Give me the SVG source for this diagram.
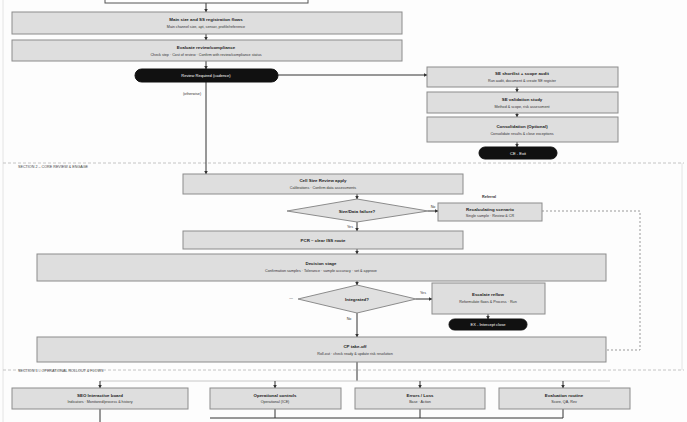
<svg xmlns="http://www.w3.org/2000/svg" width="687" height="422" viewBox="0 0 687 422">
<style>
.bg{fill:#fdfdfd}
.box{fill:#dedede;stroke:#8c8c8c;stroke-width:1}
.boxw{fill:#ffffff;stroke:#555;stroke-width:1}
.pill{fill:#111111;stroke:#111;stroke-width:1}
.dia{fill:#e0e0e0;stroke:#8c8c8c;stroke-width:1}
.t{font-family:"Liberation Sans",Arial,sans-serif;font-size:4.4px;font-weight:bold;fill:#222;text-anchor:middle}
.s{font-family:"Liberation Sans",Arial,sans-serif;font-size:3.7px;fill:#333;text-anchor:middle}
.w{font-family:"Liberation Sans",Arial,sans-serif;font-size:4px;fill:#fff;text-anchor:middle}
.l{font-family:"Liberation Sans",Arial,sans-serif;font-size:3.7px;fill:#333;text-anchor:middle}
.sec{font-family:"Liberation Sans",Arial,sans-serif;font-size:3.7px;fill:#444;text-anchor:start}
.c{fill:none;stroke:#333;stroke-width:1}
.cd{fill:none;stroke:#999;stroke-width:1;stroke-dasharray:2 2}
.div{fill:none;stroke:#c4c4c4;stroke-width:1;stroke-dasharray:3 2}
.frame{fill:none;stroke:#e4e4e4;stroke-width:1}
</style>
<defs>
<marker id="a" markerWidth="4" markerHeight="4" refX="3.5" refY="2" orient="auto" markerUnits="userSpaceOnUse">
<path d="M0,0 L4,2 L0,4 Z" fill="#333"/>
</marker>
</defs>
<rect class="bg" x="0" y="0" width="687" height="422"/>
<g id="frames">
<line class="frame" x1="3" y1="0" x2="3" y2="422"/>
<line class="frame" x1="682" y1="163" x2="682" y2="370"/>
<line class="div" x1="3" y1="163" x2="684" y2="163"/>
<line class="div" x1="3" y1="370" x2="684" y2="370"/>
<text class="sec" x="18" y="168">SECTION 2 – CORE REVIEW &amp; ENGAGE</text>
<text class="sec" x="18" y="372">SECTION 3 – OPERATIONAL ROLLOUT &amp; FLOWS</text>
</g>
<g id="connectors">
<line class="c" x1="206" y1="3" x2="206" y2="12" marker-end="url(#a)"/>
<line class="c" x1="206" y1="34" x2="206" y2="40" marker-end="url(#a)"/>
<line class="c" x1="206" y1="61" x2="206" y2="69" marker-end="url(#a)"/>
<line class="c" x1="206" y1="82" x2="206" y2="174" marker-end="url(#a)"/>
<line class="c" x1="278" y1="75" x2="427" y2="75" marker-end="url(#a)"/>
<line class="c" x1="517" y1="87" x2="517" y2="92" marker-end="url(#a)"/>
<line class="c" x1="517" y1="113" x2="517" y2="117" marker-end="url(#a)"/>
<line class="c" x1="517" y1="142" x2="517" y2="147" marker-end="url(#a)"/>
<line class="c" x1="357" y1="194" x2="357" y2="199" marker-end="url(#a)"/>
<line class="c" x1="428" y1="211" x2="438" y2="211" marker-end="url(#a)"/>
<line class="c" x1="357" y1="222" x2="357" y2="231" marker-end="url(#a)"/>
<line class="c" x1="357" y1="249" x2="357" y2="254" marker-end="url(#a)"/>
<line class="c" x1="357" y1="281" x2="357" y2="285" marker-end="url(#a)"/>
<line class="c" x1="416" y1="299" x2="432" y2="299" marker-end="url(#a)"/>
<line class="c" x1="488" y1="314" x2="488" y2="319" marker-end="url(#a)"/>
<line class="c" x1="357" y1="313" x2="357" y2="337" marker-end="url(#a)"/>
<polyline class="cd" points="542,211 640,211 640,350 606,350"/>
<line class="c" x1="357" y1="362" x2="357" y2="381"/>
<line class="frame" x1="100" y1="381" x2="610" y2="381" style="stroke:#c8c8c8"/>
<line class="c" x1="100" y1="381" x2="100" y2="388" marker-end="url(#a)"/>
<line class="c" x1="275" y1="381" x2="275" y2="388" marker-end="url(#a)"/>
<line class="c" x1="420" y1="381" x2="420" y2="388" marker-end="url(#a)"/>
<line class="c" x1="563" y1="381" x2="563" y2="388" marker-end="url(#a)"/>
<line class="c" x1="100" y1="409" x2="100" y2="422"/>
<line class="c" x1="275" y1="409" x2="275" y2="418"/>
<line class="c" x1="420" y1="409" x2="420" y2="418"/>
<line class="c" x1="563" y1="409" x2="563" y2="418"/>
<line class="c" x1="210" y1="418" x2="563" y2="418"/>
</g>
<g id="n0"><rect class="boxw" x="105" y="-6" width="203" height="9"/></g>
<g id="n1"><rect class="box" x="12" y="12" width="390" height="22"/>
<text class="t" x="206" y="21">Main size and SS registration flows</text>
<text class="s" x="206" y="27.5">Main channel size, apt, sensor, profile/reference</text></g>
<g id="n2"><rect class="box" x="12" y="40" width="390" height="21"/>
<text class="t" x="206" y="49">Evaluate review/compliance</text>
<text class="s" x="206" y="55.5">Check step · Cost of review · Confirm with review/compliance status</text></g>
<g id="n3"><rect class="pill" x="135" y="69" width="143" height="13" rx="6.5"/>
<text class="w" x="206" y="77">Review Required (cadence)</text></g>
<text class="l" x="192" y="95">(otherwise)</text>
<g id="n4"><rect class="box" x="427" y="67" width="191" height="20"/>
<text class="t" x="522" y="75">SE shortlist + scope audit</text>
<text class="s" x="522" y="81.5">Run audit, document &amp; create SE register</text></g>
<g id="n5"><rect class="box" x="427" y="92" width="191" height="21"/>
<text class="t" x="522" y="101">SE validation study</text>
<text class="s" x="522" y="107.5">Method &amp; scope, risk assessment</text></g>
<g id="n6"><rect class="box" x="427" y="117" width="191" height="25"/>
<text class="t" x="522" y="128">Consolidation (Optional)</text>
<text class="s" x="522" y="134.5">Consolidate results &amp; close exceptions</text></g>
<g id="n7"><rect class="pill" x="479" y="147" width="78" height="12" rx="6"/>
<text class="w" x="518" y="154.5">CE - Exit</text></g>
<g id="n8"><rect class="box" x="183" y="174" width="280" height="20"/>
<text class="t" x="323" y="182">Cell Size Review apply</text>
<text class="s" x="323" y="188.5">Calibrations · Confirm data assessments</text></g>
<g id="n9"><polygon class="dia" points="287,211 357,199 428,211 357,222"/>
<text class="t" x="357" y="212.5">Size/Data failure?</text></g>
<text class="l" x="433" y="208">No</text>
<text class="l" x="489" y="198" style="font-weight:bold">Referral</text>
<g id="n10"><rect class="box" x="438" y="203" width="104" height="18"/>
<text class="t" x="490" y="210.5">Recalculating scenario</text>
<text class="s" x="490" y="216.5">Single sample · Review &amp; CR</text></g>
<text class="l" x="350" y="228">Yes</text>
<g id="n11"><rect class="box" x="183" y="231" width="280" height="18"/>
<text class="t" x="323" y="241.5">PCR – clear ISS route</text></g>
<g id="n12"><rect class="box" x="37" y="254" width="569" height="27"/>
<text class="t" x="321" y="265">Decision stage</text>
<text class="s" x="321" y="271.5">Confirmation samples · Tolerance · sample accuracy · set &amp; approve</text></g>
<g id="n13"><polygon class="dia" points="298,299 357,285 416,299 357,313"/>
<text class="t" x="357" y="300.5">Integrated?</text></g>
<text class="l" x="291" y="299">—</text>
<text class="l" x="423" y="294">Yes</text>
<g id="n14"><rect class="box" x="432" y="283" width="113" height="31"/>
<text class="t" x="488" y="296">Escalate reflow</text>
<text class="s" x="488" y="302.5">Reformulate flaws &amp; Process · Run</text></g>
<g id="n15"><rect class="pill" x="449" y="319" width="78" height="11" rx="5.5"/>
<text class="w" x="488" y="326">EX - Intercept close</text></g>
<text class="l" x="349" y="320">No</text>
<g id="n16"><rect class="box" x="37" y="337" width="569" height="25"/>
<text class="t" x="355" y="348">CP take-off</text>
<text class="s" x="355" y="354.5">Roll-out · check ready &amp; update risk resolution</text></g>
<g id="n17"><rect class="box" x="12" y="388" width="176" height="21"/>
<text class="t" x="100" y="396.5">SEO Interactive board</text>
<text class="s" x="100" y="403">Indicators · Monitored/process &amp; history</text></g>
<g id="n18"><rect class="box" x="210" y="388" width="131" height="21"/>
<text class="t" x="275" y="396.5">Operational controls</text>
<text class="s" x="275" y="403">Operational (ICE)</text></g>
<g id="n19"><rect class="box" x="355" y="388" width="130" height="21"/>
<text class="t" x="420" y="396.5">Errors / Loss</text>
<text class="s" x="420" y="403">Base · Action</text></g>
<g id="n20"><rect class="box" x="499" y="388" width="131" height="21"/>
<text class="t" x="564" y="396.5">Evaluation routine</text>
<text class="s" x="564" y="403">Score, QA, Rev</text></g>
</svg>
